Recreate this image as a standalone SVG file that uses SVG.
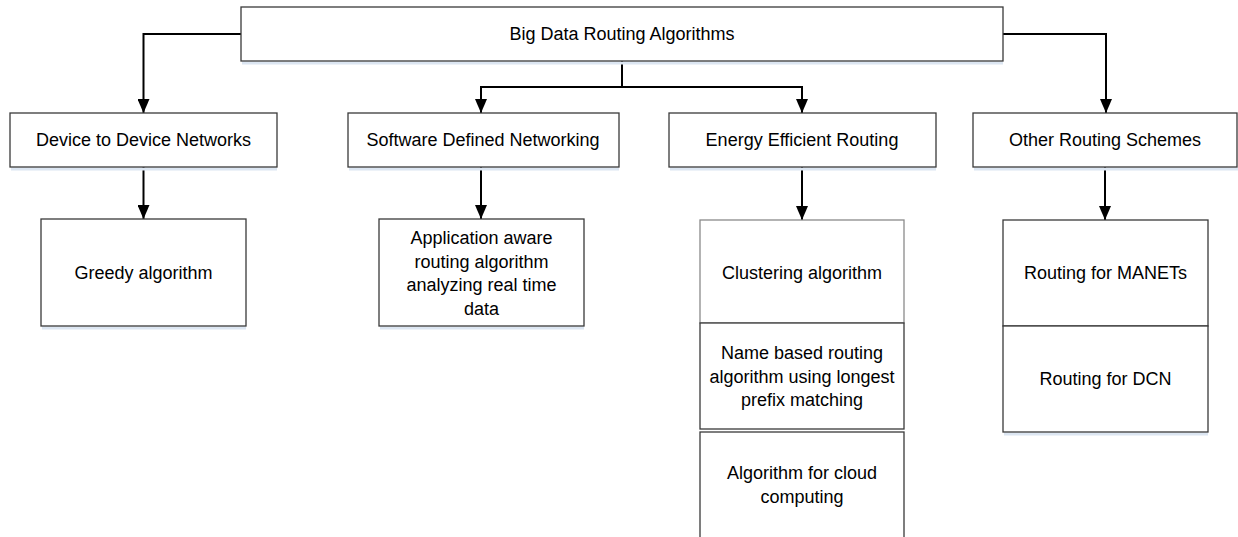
<svg xmlns="http://www.w3.org/2000/svg" width="1238" height="537" viewBox="0 0 1238 537">
<style>
.box{fill:#fff;stroke:#3a3a3a;stroke-width:1.3}
.sh{fill:none;stroke:#dce6f2;stroke-width:3}
.t{font-family:"Liberation Sans",Arial,sans-serif;font-size:18px;fill:#000;text-anchor:middle;dominant-baseline:central}
.c{fill:none;stroke:#000;stroke-width:2}
</style>
<defs>
<marker id="ah" markerWidth="14" markerHeight="12" refX="14" refY="6" orient="auto" markerUnits="userSpaceOnUse" viewBox="0 0 14 12">
<path d="M0,0 L14,6 L0,12 Z" fill="#000"/>
</marker>
</defs>
<g id="connectors">
<path class="c" d="M241,34 H143.5 V113" marker-end="url(#ah)"/>
<path class="c" d="M1003,34 H1106 V113" marker-end="url(#ah)"/>
<path class="c" d="M622,61 V87"/>
<path class="c" d="M622,87 H481 V113" marker-end="url(#ah)"/>
<path class="c" d="M622,87 H802 V113" marker-end="url(#ah)"/>
<path class="c" d="M143.5,167 V219" marker-end="url(#ah)"/>
<path class="c" d="M481,167 V219" marker-end="url(#ah)"/>
<path class="c" d="M802,167 V220" marker-end="url(#ah)"/>
<path class="c" d="M1105,167 V220" marker-end="url(#ah)"/>
</g>
<g id="root">
<line class="sh" x1="242" y1="63" x2="1003" y2="63"/>
<rect class="box" x="241" y="7" width="762" height="54"/>
<text class="t" x="622" y="34">Big Data Routing Algorithms</text>
</g>
<g id="d2d">
<line class="sh" x1="11" y1="169" x2="277" y2="169"/>
<rect class="box" x="10" y="113" width="267" height="54"/>
<text class="t" x="143.5" y="140">Device to Device Networks</text>
</g>
<g id="sdn">
<line class="sh" x1="349" y1="169" x2="619" y2="169"/>
<rect class="box" x="348" y="113" width="271" height="54"/>
<text class="t" x="483" y="140">Software Defined Networking</text>
</g>
<g id="eer">
<line class="sh" x1="670" y1="169" x2="936" y2="169"/>
<rect class="box" x="669" y="113" width="267" height="54"/>
<text class="t" x="802" y="140">Energy Efficient Routing</text>
</g>
<g id="ors">
<line class="sh" x1="974" y1="169" x2="1238" y2="169"/>
<rect class="box" x="973" y="113" width="264" height="54"/>
<text class="t" x="1105" y="140">Other Routing Schemes</text>
</g>
<g id="greedy">
<line class="sh" x1="42" y1="328" x2="246" y2="328"/>
<rect class="box" x="41" y="219" width="205" height="107"/>
<text class="t" x="143.5" y="273">Greedy algorithm</text>
</g>
<g id="appaware">
<line class="sh" x1="380" y1="328" x2="584" y2="328"/>
<rect class="box" x="379" y="219" width="205" height="107"/>
<text class="t" x="481.5" y="238">Application aware</text>
<text class="t" x="481.5" y="261.5">routing algorithm</text>
<text class="t" x="481.5" y="285">analyzing real time</text>
<text class="t" x="481.5" y="308.5">data</text>
</g>
<g id="clustering">
<rect class="box" x="700" y="220" width="204" height="103" style="stroke:#8a8a8a"/>
<text class="t" x="802" y="273">Clustering algorithm</text>
</g>
<g id="namebased">
<rect class="box" x="700" y="323" width="204" height="106"/>
<text class="t" x="802" y="353">Name based routing</text>
<text class="t" x="802" y="376.5">algorithm using longest</text>
<text class="t" x="802" y="400">prefix matching</text>
</g>
<g id="cloud">
<rect class="box" x="700" y="432" width="204" height="110"/>
<text class="t" x="802" y="473">Algorithm for cloud</text>
<text class="t" x="802" y="497">computing</text>
</g>
<g id="manets">
<rect class="box" x="1003" y="220" width="205" height="106"/>
<text class="t" x="1105.5" y="273">Routing for MANETs</text>
</g>
<g id="dcn">
<line class="sh" x1="1004" y1="434" x2="1208" y2="434"/>
<rect class="box" x="1003" y="326" width="205" height="106"/>
<text class="t" x="1105.5" y="379">Routing for DCN</text>
</g>
</svg>
